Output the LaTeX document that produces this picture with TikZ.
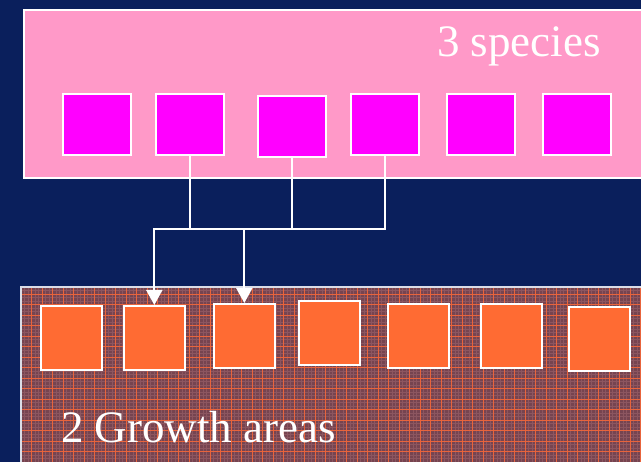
\documentclass[tikz,border=0pt]{standalone}
\usepackage{fontspec}
\setmainfont{Liberation Serif}
\usetikzlibrary{arrows.meta}
\definecolor{navy}{RGB}{10,31,92}
\definecolor{pinkbg}{RGB}{255,153,200}
\definecolor{mag}{RGB}{255,0,255}
\definecolor{brownbg}{RGB}{118,68,80}
\definecolor{finetex}{RGB}{140,86,96}
\definecolor{gridor}{RGB}{232,100,60}
\definecolor{orangesq}{RGB}{255,107,51}
\tikzset{
  spbox/.style={draw=white, line width=1.6pt, fill=mag, minimum width=68pt, minimum height=61pt, inner sep=0pt, anchor=north west},
  grbox/.style={draw=white, line width=1.6pt, fill=orangesq, minimum width=61pt, minimum height=64pt, inner sep=0pt, anchor=north west},
  conn/.style={draw=white, line width=1.8pt},
  arr/.style={conn, -{Triangle[width=16pt,length=15pt]}},
  lbl/.style={text=white, font=\fontsize{45}{50}\selectfont, inner sep=0pt, anchor=base west}
}
\begin{document}
\begin{tikzpicture}[x=1pt,y=-1pt]
\useasboundingbox (0,0) rectangle (641,462);
\clip (0,0) rectangle (641,462);
\fill[navy] (0,0) rectangle (641,462);
% top area
\draw[white, line width=1.4pt, fill=pinkbg] (24,10) rectangle (660,178);
\node[lbl] (t1) at (437,57) {3 species};
\node[spbox] (s1) at (62,93) {};
\node[spbox] (s2) at (155,93) {};
\node[spbox] (s3) at (257,95) {};
\node[spbox] (s4) at (350,93) {};
\node[spbox] (s5) at (446,93) {};
\node[spbox] (s6) at (542,93) {};
% bottom area
\fill[brownbg] (21,287) rectangle (660,470);
\begin{scope}
\clip (21,287) rectangle (660,470);
\draw[finetex, line width=0.4pt, step=3.5pt] (21,287) grid (660,470);
\draw[gridor, line width=0.8pt, step=10.5pt] (21,287) grid (660,470);
\end{scope}
\draw[white!85!navy, line width=1.2pt] (21,470) -- (21,287) -- (660,287);
\node[grbox] (g1) at (40,305) {};
\node[grbox] (g2) at (123,305) {};
\node[grbox] (g3) at (213,303) {};
\node[grbox] (g4) at (298,300) {};
\node[grbox] (g5) at (387,303) {};
\node[grbox] (g6) at (480,303) {};
\node[grbox] (g7) at (568,306) {};
\node[lbl] (t2) at (61,443) {2 Growth areas};
% connectors
\coordinate (jl) at (g2.north |- 0,229);
\coordinate (jr) at (s4.south |- 0,229);
\draw[conn] (s2.south) -- (s2.south |- jl);
\draw[conn] (s3.south) -- (s3.south |- jl);
\draw[conn] (s4.south) -- (jr);
\draw[conn] ([xshift=-0.9pt]jl) -- ([xshift=0.9pt]jr);
\draw[arr] (jl) -- (g2.north);
\draw[arr] (g3.north |- jl) -- (g3.north);
\end{tikzpicture}
\end{document}
